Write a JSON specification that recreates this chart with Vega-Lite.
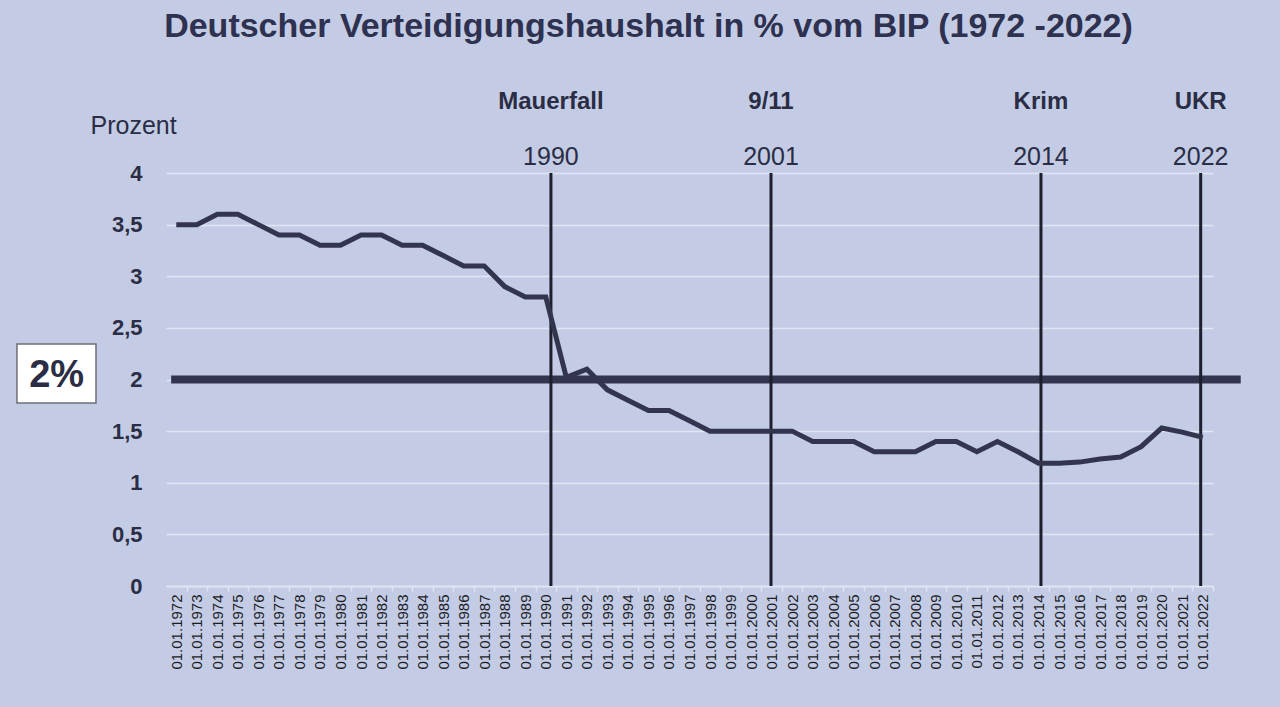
{
  "$schema": "https://vega.github.io/schema/vega-lite/v6.json",
  "width": 1047,
  "height": 413,
  "autosize": {"type": "none"},
  "padding": {"left": 166, "top": 173, "right": 67, "bottom": 121},
  "background": "#c3cce4",
  "config": {"view": {"stroke": null}, "font": "Liberation Sans", "axisX": {"labelOverlap": false, "labelSeparation": 0}},
  "title": {
    "text": "Deutscher Verteidigungshaushalt in % vom BIP (1972 -2022)",
    "fontSize": 34,
    "fontWeight": "bold",
    "color": "#2f3150",
    "font": "Liberation Sans",
    "anchor": "middle",
    "frame": "group",
    "dx": -41,
    "offset": 19,
    "baseline": "alphabetic"
  },
  "datasets": {
    "budget": [
      {"year": 1972, "value": 3.5}, {"year": 1973, "value": 3.5}, {"year": 1974, "value": 3.6},
      {"year": 1975, "value": 3.6}, {"year": 1976, "value": 3.5}, {"year": 1977, "value": 3.4},
      {"year": 1978, "value": 3.4}, {"year": 1979, "value": 3.3}, {"year": 1980, "value": 3.3},
      {"year": 1981, "value": 3.4}, {"year": 1982, "value": 3.4}, {"year": 1983, "value": 3.3},
      {"year": 1984, "value": 3.3}, {"year": 1985, "value": 3.2}, {"year": 1986, "value": 3.1},
      {"year": 1987, "value": 3.1}, {"year": 1988, "value": 2.9}, {"year": 1989, "value": 2.8},
      {"year": 1990, "value": 2.8}, {"year": 1991, "value": 2.02}, {"year": 1992, "value": 2.1},
      {"year": 1993, "value": 1.9}, {"year": 1994, "value": 1.8}, {"year": 1995, "value": 1.7},
      {"year": 1996, "value": 1.7}, {"year": 1997, "value": 1.6}, {"year": 1998, "value": 1.5},
      {"year": 1999, "value": 1.5}, {"year": 2000, "value": 1.5}, {"year": 2001, "value": 1.5},
      {"year": 2002, "value": 1.5}, {"year": 2003, "value": 1.4}, {"year": 2004, "value": 1.4},
      {"year": 2005, "value": 1.4}, {"year": 2006, "value": 1.3}, {"year": 2007, "value": 1.3},
      {"year": 2008, "value": 1.3}, {"year": 2009, "value": 1.4}, {"year": 2010, "value": 1.4},
      {"year": 2011, "value": 1.3}, {"year": 2012, "value": 1.4}, {"year": 2013, "value": 1.3},
      {"year": 2014, "value": 1.19}, {"year": 2015, "value": 1.19}, {"year": 2016, "value": 1.2},
      {"year": 2017, "value": 1.23}, {"year": 2018, "value": 1.25}, {"year": 2019, "value": 1.35},
      {"year": 2020, "value": 1.53}, {"year": 2021, "value": 1.49}, {"year": 2022, "value": 1.44}
    ],
    "events": [
      {"pos": 1990.25, "label": "1990", "event": "Mauerfall"},
      {"pos": 2000.97, "label": "2001", "event": "9/11"},
      {"pos": 2014.12, "label": "2014", "event": "Krim"},
      {"pos": 2021.9, "label": "2022", "event": "UKR"}
    ]
  },
  "layer": [
    {
      "data": {"name": "budget"},
      "mark": {"type": "line", "opacity": 0},
      "encoding": {
        "x": {
          "field": "year",
          "type": "quantitative",
          "scale": {"domain": [1971.5, 2022.5], "nice": false, "zero": false},
          "axis": {
            "title": null,
            "values": [1972,1973,1974,1975,1976,1977,1978,1979,1980,1981,1982,1983,1984,1985,1986,1987,1988,1989,1990,1991,1992,1993,1994,1995,1996,1997,1998,1999,2000,2001,2002,2003,2004,2005,2006,2007,2008,2009,2010,2011,2012,2013,2014,2015,2016,2017,2018,2019,2020,2021,2022],
            "tickCount": 100,
            "labelExpr": "'01.01.' + datum.value",
            "labelAngle": -90,
            "labelFontSize": 15,
            "labelColor": "#1c1c24",
            "labelPadding": 3,
            "labelFlush": false,
            "labelOverlap": false,
            "labelSeparation": 0,
            "grid": false,
            "domainColor": "#dfe6f5",
            "domainWidth": 1.5,
            "tickColor": "#dfe6f5",
            "tickWidth": 1.5,
            "tickSize": 5,
            "tickOffset": 10.26,
            "labelOffset": -10.26
          }
        },
        "y": {
          "field": "value",
          "type": "quantitative",
          "scale": {"domain": [0, 4], "nice": false},
          "axis": {
            "title": "Prozent",
            "titleAngle": 0,
            "titleAlign": "left",
            "titleBaseline": "alphabetic",
            "titleX": -76,
            "titleY": -40,
            "titleFontSize": 25,
            "titleFontWeight": "normal",
            "titleColor": "#2b2d45",
            "values": [0, 0.5, 1, 1.5, 2, 2.5, 3, 3.5, 4],
            "tickCount": 20,
            "labelExpr": "replace(toString(datum.value), '.', ',')",
            "labelFontSize": 22,
            "labelFontWeight": "bold",
            "labelColor": "#2b2d45",
            "labelPadding": 24,
            "ticks": false,
            "tickSize": 0,
            "domain": false,
            "grid": true,
            "gridColor": "#dfe6f5",
            "gridWidth": 1.5
          }
        }
      }
    },
    {
      "data": {"values": [{}]},
      "mark": {"type": "rule", "color": "#33354f", "strokeWidth": 8},
      "encoding": {
        "x": {"datum": 1971.75, "type": "quantitative"},
        "x2": {"datum": 2023.85},
        "y": {"datum": 2, "type": "quantitative"}
      }
    },
    {
      "data": {"name": "events"},
      "mark": {"type": "rule", "color": "#1e1f2e", "strokeWidth": 3},
      "encoding": {
        "x": {"field": "pos", "type": "quantitative"},
        "y": {"datum": 0, "type": "quantitative"},
        "y2": {"datum": 4}
      }
    },
    {
      "data": {"name": "budget"},
      "mark": {"type": "line", "color": "#33354f", "strokeWidth": 5},
      "encoding": {
        "x": {"field": "year", "type": "quantitative"},
        "y": {"field": "value", "type": "quantitative"}
      }
    },
    {
      "data": {"name": "events"},
      "mark": {"type": "text", "fontSize": 25, "color": "#2b2d45", "baseline": "alphabetic", "align": "center", "dy": -8},
      "encoding": {
        "x": {"field": "pos", "type": "quantitative"},
        "y": {"datum": 4, "type": "quantitative"},
        "text": {"field": "label", "type": "nominal"}
      }
    },
    {
      "data": {"name": "events"},
      "mark": {"type": "text", "fontSize": 24, "fontWeight": "bold", "color": "#2b2d45", "baseline": "alphabetic", "align": "center", "dy": -64},
      "encoding": {
        "x": {"field": "pos", "type": "quantitative"},
        "y": {"datum": 4, "type": "quantitative"},
        "text": {"field": "event", "type": "nominal"}
      }
    },
    {
      "data": {"values": [{}]},
      "mark": {"type": "rect", "fill": "#ffffff", "stroke": "#6e6e78", "strokeWidth": 1.5},
      "encoding": {
        "x": {"datum": 1964.24, "type": "quantitative"},
        "x2": {"datum": 1968.09},
        "y": {"datum": 2.344, "type": "quantitative"},
        "y2": {"datum": 1.772}
      }
    },
    {
      "data": {"values": [{}]},
      "mark": {"type": "text", "fontSize": 38, "fontWeight": "bold", "color": "#2b2d45", "baseline": "middle", "align": "center", "dy": -4, "text": "2%"},
      "encoding": {
        "x": {"datum": 1966.17, "type": "quantitative"},
        "y": {"datum": 2, "type": "quantitative"}
      }
    }
  ]
}
